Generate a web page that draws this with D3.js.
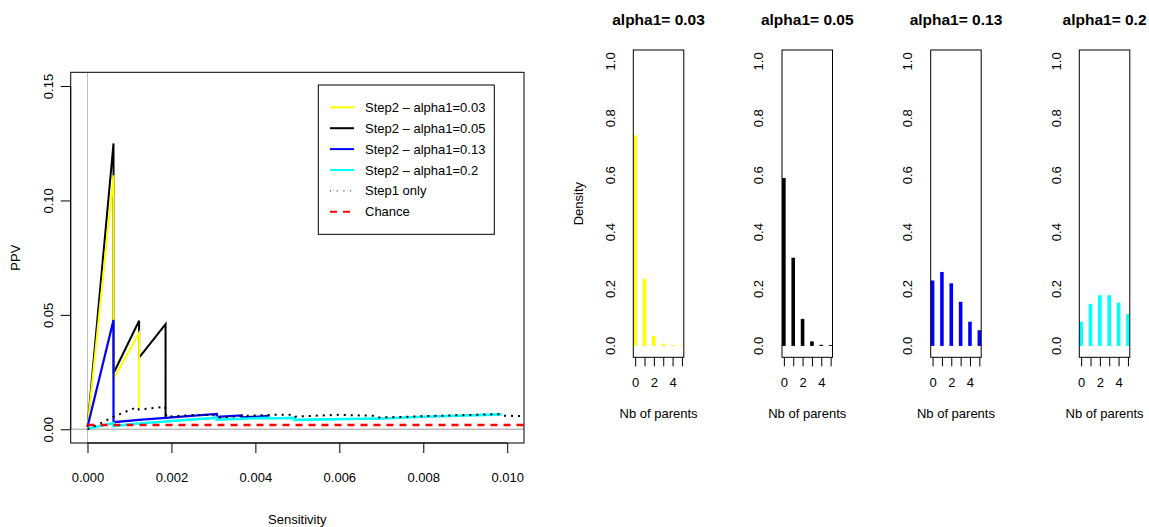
<!DOCTYPE html>
<html>
<head>
<meta charset="utf-8">
<script src="https://cdn.jsdelivr.net/npm/d3@7"></script>
<style>
  body { margin: 0; background: #fff; }
  text { font-family: "Liberation Sans", Arial, Helvetica, sans-serif; fill: #000; }
</style>
</head>
<body>
<svg id="chart" width="1149" height="527"></svg>
<script>
// ---- data ----
var xTicks = [0, 0.002, 0.004, 0.006, 0.008, 0.010];
var yTicks = [0, 0.05, 0.10, 0.15];

// [sensitivity, PPV]
var step2_003 = [[0, 0.0005], [0.00062, 0.111], [0.00062, 0.022], [0.00123, 0.042], [0.00123, 0.0093]];
var step2_005 = [[0, 0.001], [0.00062, 0.1249], [0.00062, 0.0245], [0.00123, 0.0474], [0.00123, 0.0313],
                 [0.00186, 0.0459], [0.00186, 0.0048]];
var step2_013 = [[0, 0.001], [0.00062, 0.0477], [0.00062, 0.0031], [0.00123, 0.0041], [0.00186, 0.0050],
                 [0.00308, 0.0067], [0.00308, 0.0054], [0.00368, 0.0061], [0.00368, 0.0052],
                 [0.00431, 0.0058], [0.00431, 0.0051]];
var step2_02 = [[0, 0.0002], [0.00062, 0.0027], [0.00062, 0.0014], [0.00123, 0.0025], [0.00186, 0.0034],
                [0.00308, 0.0051], [0.00308, 0.0042], [0.00368, 0.0046], [0.00431, 0.0050], [0.00431, 0.0047],
                [0.00494, 0.0050], [0.00494, 0.0041], [0.0069, 0.0047], [0.0069, 0.0046], [0.0080, 0.0055],
                [0.00987, 0.0065]];
var step1 = [[0, 0], [0.0003, 0.0025], [0.00062, 0.0055], [0.0009, 0.0076], [0.00118, 0.0097],
             [0.00123, 0.0086], [0.0015, 0.0091], [0.00185, 0.0099], [0.00188, 0.0055], [0.0025, 0.0062],
             [0.0030, 0.0062], [0.0031, 0.0051], [0.0037, 0.0058], [0.0044, 0.0063], [0.0049, 0.0064],
             [0.00495, 0.0055], [0.0055, 0.0060], [0.0060, 0.0063], [0.0068, 0.0059], [0.0069, 0.0051],
             [0.0080, 0.0057], [0.0098, 0.0066], [0.0099, 0.0059], [0.0104, 0.0058]];
var chance = 0.0019;

var legendLabels = ["Step2 \u2013 alpha1=0.03", "Step2 \u2013 alpha1=0.05", "Step2 \u2013 alpha1=0.13",
                    "Step2 \u2013 alpha1=0.2", "Step1 only", "Chance"];

// histograms of number of parents
var parents = [0, 1, 2, 3, 4, 5];
var alphaTitles = ["alpha1= 0.03", "alpha1= 0.05", "alpha1= 0.13", "alpha1= 0.2"];
var dens003 = [0.74, 0.235, 0.035, 0.008, 0.003, 0.002];
var dens005 = [0.59, 0.31, 0.095, 0.016, 0.004, 0.003];
var dens013 = [0.23, 0.26, 0.22, 0.155, 0.085, 0.055];
var dens02 = [0.085, 0.148, 0.178, 0.178, 0.152, 0.112];
var densTicks = [0, 0.2, 0.4, 0.6, 0.8, 1.0];

var svg = d3.select("#chart");
svg.append("rect").attr("width", 1149).attr("height", 527).attr("fill", "#fff");

// ---- main plot ----
var box = {l: 70.7, r: 524, t: 72.3, b: 443};
var x = d3.scaleLinear().domain([-0.0004, 0.0104]).range([box.l, box.r]);
var y = d3.scaleLinear().domain([-0.006, 0.156]).range([box.b, box.t]);

svg.append("clipPath").attr("id", "clipMain").append("rect")
  .attr("x", box.l).attr("y", box.t).attr("width", box.r - box.l).attr("height", box.b - box.t);

var plot = svg.append("g").attr("clip-path", "url(#clipMain)");
plot.append("line").attr("x1", x(0)).attr("x2", x(0)).attr("y1", box.t).attr("y2", box.b)
  .attr("stroke", "#bebebe").attr("stroke-width", 1);
plot.append("line").attr("x1", box.l).attr("x2", box.r).attr("y1", y(0)).attr("y2", y(0))
  .attr("stroke", "#bebebe").attr("stroke-width", 1.5);

var line = d3.line().x(function(d){ return x(d[0]); }).y(function(d){ return y(d[1]); });

var series = [
  {data: step2_005, col: "#000000", w: 2},
  {data: step2_003, col: "#ffff00", w: 2},
  {data: step2_013, col: "#0000ff", w: 2.2},
  {data: step2_02, col: "#00ffff", w: 2.6}
];
series.forEach(function(s){
  plot.append("path").datum(s.data).attr("d", line).attr("fill", "none")
    .attr("stroke", s.col).attr("stroke-width", s.w).attr("stroke-linejoin", "miter");
});
plot.append("path").datum(step1).attr("d", line).attr("fill", "none")
  .attr("stroke", "#000").attr("stroke-width", 2).attr("stroke-dasharray", "2,5");
plot.append("line").attr("x1", x(0)).attr("x2", box.r).attr("y1", y(chance)).attr("y2", y(chance))
  .attr("stroke", "#ff0000").attr("stroke-width", 2.5).attr("stroke-dasharray", "7,6");

svg.append("rect").attr("x", box.l).attr("y", box.t).attr("width", box.r - box.l).attr("height", box.b - box.t)
  .attr("fill", "none").attr("stroke", "#000").attr("stroke-width", 1);

// x axis
var xAxis = svg.append("g").attr("transform", "translate(0," + box.b + ")")
  .call(d3.axisBottom(x).tickValues(xTicks).tickFormat(d3.format(".3f")).tickSize(10).tickSizeOuter(0).tickPadding(20));
xAxis.select(".domain").remove();
xAxis.append("line").attr("x1", x(xTicks[0])).attr("x2", x(xTicks[xTicks.length - 1]))
  .attr("stroke", "#000");
xAxis.selectAll("text").attr("font-size", 13).attr("font-family", null);

// y axis
var yAxis = svg.append("g").attr("transform", "translate(" + box.l + ",0)")
  .call(d3.axisLeft(y).tickValues(yTicks).tickFormat(d3.format(".2f")).tickSize(10).tickSizeOuter(0));
yAxis.select(".domain").remove();
yAxis.append("line").attr("y1", y(yTicks[0])).attr("y2", y(yTicks[yTicks.length - 1])).attr("stroke", "#000");
yAxis.selectAll("text").attr("x", 0).attr("dy", "0.35em").attr("text-anchor", "middle")
  .attr("font-size", 13).attr("font-family", null)
  .attr("transform", "translate(-22.7,0) rotate(-90)");

svg.append("text").attr("x", (box.l + box.r) / 2).attr("y", 523.5).attr("text-anchor", "middle")
  .attr("font-size", 13).text("Sensitivity");
svg.append("text").attr("transform", "translate(15," + (box.t + box.b) / 2 + ") rotate(-90)")
  .attr("dy", "0.35em").attr("text-anchor", "middle").attr("font-size", 13).text("PPV");

// legend
var lg = svg.append("g");
lg.append("rect").attr("x", 318.3).attr("y", 85).attr("width", 176).attr("height", 149.3)
  .attr("fill", "#fff").attr("stroke", "#000");
var legendStyles = [
  {col: "#ffff00", dash: null, w: 2},
  {col: "#000000", dash: null, w: 2},
  {col: "#0000ff", dash: null, w: 2},
  {col: "#00ffff", dash: null, w: 2},
  {col: "#000000", dash: "1,5.7", w: 1},
  {col: "#ff0000", dash: "7,6", w: 2}
];
legendLabels.forEach(function(lab, i){
  var yy = 107.3 + i * 20.9;
  lg.append("line").attr("x1", 330).attr("x2", 354).attr("y1", yy).attr("y2", yy)
    .attr("stroke", legendStyles[i].col).attr("stroke-width", legendStyles[i].w)
    .attr("stroke-dasharray", legendStyles[i].dash);
  lg.append("text").attr("x", 365).attr("y", yy).attr("dy", "0.35em").attr("font-size", 13).text(lab);
});

// ---- histogram panels ----
var panelData = [dens003, dens005, dens013, dens02];
var panelCols = ["#ffff00", "#000000", "#0000ff", "#00ffff"];
var panelLeft = [633.3, 782, 930.7, 1079.3];
var pw = 50.5, pt = 50, pb = 357.3;

panelData.forEach(function(dens, k){
  var l = panelLeft[k];
  var px = d3.scaleLinear().domain([-0.2, 5.2]).range([l, l + pw]);
  var py = d3.scaleLinear().domain([-0.04, 1.04]).range([pb, pt]);
  var g = svg.append("g");

  g.selectAll("line.bar").data(parents).enter().append("line").attr("class", "bar")
    .attr("x1", function(d){ return px(d); }).attr("x2", function(d){ return px(d); })
    .attr("y1", py(0)).attr("y2", function(d, i){ return py(dens[i]); })
    .attr("stroke", panelCols[k]).attr("stroke-width", 3.6);

  g.append("rect").attr("x", l).attr("y", pt).attr("width", pw).attr("height", pb - pt)
    .attr("fill", "none").attr("stroke", "#000");

  var ax = g.append("g").attr("transform", "translate(0," + pb + ")")
    .call(d3.axisBottom(px).tickValues(parents).tickSize(9).tickSizeOuter(0).tickPadding(11)
      .tickFormat(function(d){ return d % 2 === 0 ? d : ""; }));
  ax.select(".domain").remove();
  ax.selectAll("text").attr("font-size", 13).attr("font-family", null);

  g.selectAll("text.ylab").data(densTicks).enter().append("text").attr("class", "ylab")
    .attr("transform", function(d){ return "translate(" + (l - 23.3) + "," + py(d) + ") rotate(-90)"; })
    .attr("dy", "0.35em").attr("text-anchor", "middle").attr("font-size", 13)
    .text(function(d){ return d.toFixed(1); });

  g.append("text").attr("x", l + pw / 2).attr("y", 417.5).attr("text-anchor", "middle")
    .attr("font-size", 13).text("Nb of parents");
  g.append("text").attr("x", l + pw / 2).attr("y", 24.5).attr("text-anchor", "middle")
    .attr("font-size", 15.5).attr("font-weight", "bold").text(alphaTitles[k]);
  if (k === 0) {
    g.append("text").attr("transform", "translate(578," + (pt + pb) / 2 + ") rotate(-90)")
      .attr("dy", "0.35em").attr("text-anchor", "middle").attr("font-size", 13).text("Density");
  }
});
</script>
</body>
</html>
